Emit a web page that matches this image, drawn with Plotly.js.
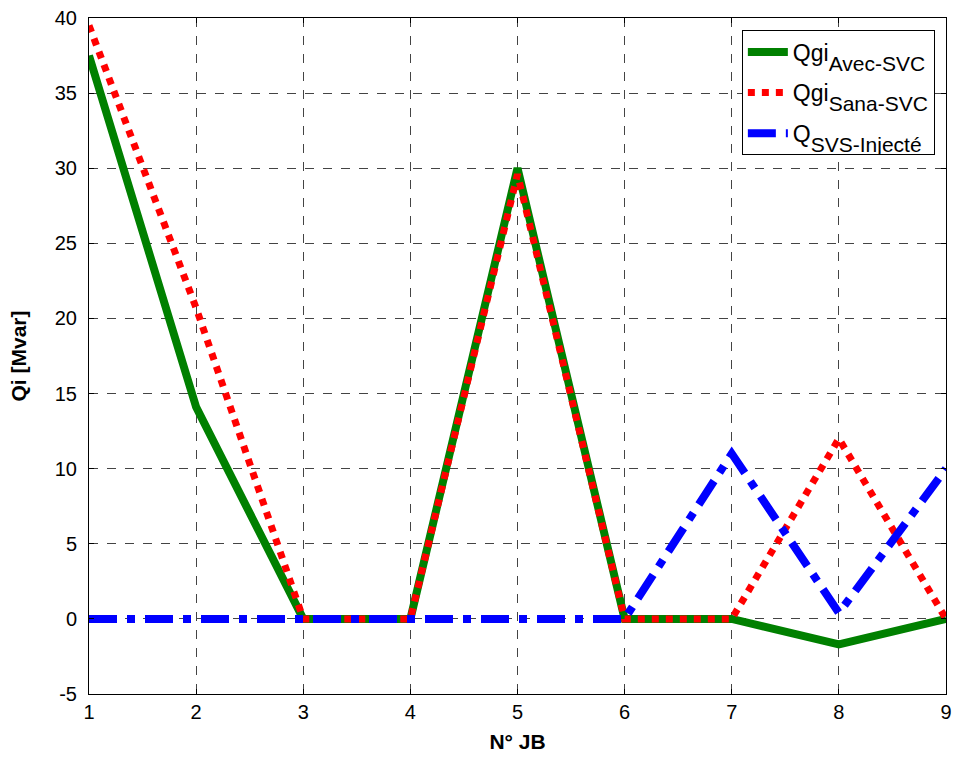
<!DOCTYPE html>
<html>
<head>
<meta charset="utf-8">
<script src="https://cdn.plot.ly/plotly-3.0.1.min.js"></script>
<style>html,body{margin:0;padding:0;background:#fff;}#chart{width:957px;height:766px;}</style>
</head>
<body>
<div id="chart"></div>
<script>
const jb = [1, 2, 3, 4, 5, 6, 7, 8, 9];
const qgiAvecSVC = [37.5, 14.1, 0, 0, 30, 0, 0, -1.7, 0];
const qgiSansSVC = [39.5, 20.7, 0, 0, 29.6, 0, 0, 12, 0];
const qSVSInjecte = [0, 0, 0, 0, 0, 0, 11, 0.4, 10];
const xTicks = [1, 2, 3, 4, 5, 6, 7, 8, 9];
const yTicks = [-5, 0, 5, 10, 15, 20, 25, 30, 35, 40];
const mainLabels = ['Qgi', 'Qgi', 'Q'];
const subLabels = ['Avec-SVC', 'Sana-SVC', 'SVS-Injecté'];

const FONT = 'Liberation Sans, Arial, sans-serif';
const names = mainLabels.map((m, i) =>
  '<span style="font-size:23px">' + m + '</span><sub><sub><sub><span style="font-size:21px">' + subLabels[i] + '</span></sub></sub></sub>');

const traces = [
  {x: jb, y: qgiAvecSVC, name: names[0], legendgroup: 'a', mode: 'lines', line: {color: '#008000', width: 8}},
  {x: jb, y: qgiSansSVC, name: names[1], legendgroup: 'b', mode: 'lines', line: {color: '#ff0000', width: 7, dash: 'dot'}},
  {x: jb, y: qSVSInjecte, name: names[2], legendgroup: 'c', mode: 'lines', line: {color: '#0000ff', width: 8, dash: '28px,10px,8px,10px'}}
];

const axisCommon = {
  showline: true, linecolor: '#000', linewidth: 1, mirror: 'ticks',
  ticks: 'inside', ticklen: 5, tickcolor: '#000',
  showgrid: true, gridcolor: '#444', gridwidth: 1, griddash: 'dash',
  zeroline: false,
  tickfont: {family: FONT, size: 20, color: '#000'}
};

const layout = {
  width: 957, height: 766,
  margin: {l: 89, r: 11, t: 18, b: 72},
  paper_bgcolor: '#fff', plot_bgcolor: '#fff',
  showlegend: true,
  xaxis: Object.assign({}, axisCommon, {
    range: [1, 9], tickvals: xTicks, ticktext: xTicks.map(String),
    title: {text: '<b>N° JB</b>', font: {family: FONT, size: 21, color: '#000'}, standoff: 12}
  }),
  yaxis: Object.assign({}, axisCommon, {
    range: [-5, 40], tickvals: yTicks, ticktext: yTicks.map(String),
    ticklabelstandoff: 7,
    title: {text: '<b>Qi [Mvar]</b>', font: {family: FONT, size: 21, color: '#000'}, standoff: 22}
  }),
  legend: {
    x: 0.987, xanchor: 'right', y: 0.982, yanchor: 'top',
    bgcolor: '#fff', bordercolor: '#000', borderwidth: 1,
    font: {family: FONT, size: 22, color: '#000'},
    tracegroupgap: 9, itemwidth: 40, entrywidth: 215, entrywidthmode: 'pixels'
  }
};

Plotly.newPlot('chart', traces, layout, {displayModeBar: false, staticPlot: true});
</script>
</body>
</html>
